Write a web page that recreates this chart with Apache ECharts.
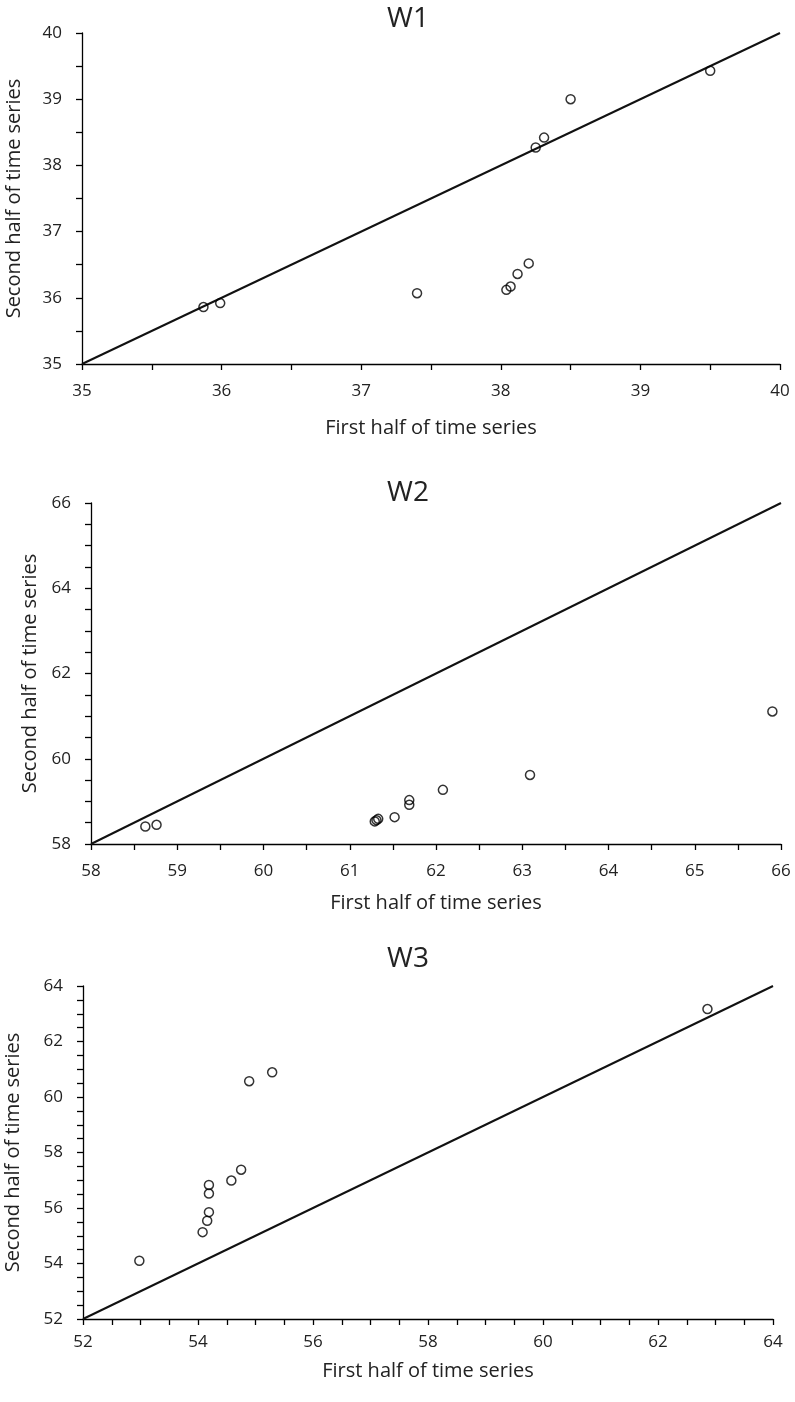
<!DOCTYPE html>
<html>
<head>
<meta charset="utf-8">
<script src="https://cdn.jsdelivr.net/npm/echarts@6/dist/echarts.min.js"></script>
<style>
  html, body { margin: 0; padding: 0; background: #fff; }
</style>
</head>
<body>
<div id="chart" style="width: 795px; height: 1402px;"></div>
<script>
// W1
const w1X = [35.87, 35.99, 37.40, 38.04, 38.07, 38.12, 38.20, 38.25, 38.31, 38.50, 39.50];
const w1Y = [35.86, 35.92, 36.07, 36.12, 36.17, 36.36, 36.52, 38.27, 38.42, 39.00, 39.43];
const w1Range = [35, 40];
// W2
const w2X = [58.63, 58.76, 61.29, 61.31, 61.33, 61.52, 61.69, 61.69, 62.08, 63.09, 65.90];
const w2Y = [58.41, 58.45, 58.53, 58.56, 58.59, 58.63, 58.92, 59.03, 59.27, 59.62, 61.11];
const w2Range = [58, 66];
// W3
const w3X = [52.98, 54.08, 54.16, 54.19, 54.19, 54.19, 54.58, 54.75, 54.89, 55.29, 62.86];
const w3Y = [54.10, 55.13, 55.54, 55.85, 56.52, 56.83, 56.99, 57.38, 60.57, 60.89, 63.17];
const w3Range = [52, 64];

const titles = ['W1', 'W2', 'W3'];
const xName = 'First half of time series';
const yName = 'Second half of time series';

const font = 'Open Sans';
const ink = '#222';

const panels = [
  { x: w1X, y: w1Y, range: w1Range, xStep: 1, yStep: 1, xSplit: 2, ySplit: 2,
    grid: { left: 82, top: 33, width: 698, height: 331 }, titleTop: 0,
    xGap: 54, yGap: 58, labelMargin: 19 },
  { x: w2X, y: w2Y, range: w2Range, xStep: 1, yStep: 2, xSplit: 2, ySplit: 4,
    grid: { left: 91, top: 503, width: 690, height: 341 }, titleTop: 474,
    xGap: 49, yGap: 48, labelMargin: 19 },
  { x: w3X, y: w3Y, range: w3Range, xStep: 2, yStep: 2, xSplit: 4, ySplit: 4,
    grid: { left: 83, top: 986, width: 690, height: 333 }, titleTop: 940,
    xGap: 42, yGap: 60, labelMargin: 15 }
];

function makeAxis(i, p, isX) {
  return {
    type: 'value',
    gridIndex: i,
    min: p.range[0],
    max: p.range[1],
    interval: isX ? p.xStep : p.yStep,
    name: isX ? xName : yName,
    nameLocation: 'middle',
    nameGap: isX ? p.xGap : p.yGap,
    nameTextStyle: { fontFamily: font, fontSize: 20, color: ink },
    axisLine: { show: true, lineStyle: { color: '#000', width: 1.3 } },
    axisTick: { show: true, length: 6, lineStyle: { color: '#000', width: 1.3 } },
    minorTick: { show: true, splitNumber: isX ? p.xSplit : p.ySplit, length: 6,
      lineStyle: { color: '#000', width: 1.3 } },
    axisLabel: { fontFamily: font, fontSize: 17, color: ink,
      margin: isX ? p.labelMargin : 20 },
    splitLine: { show: false }
  };
}

const chart = echarts.init(document.getElementById('chart'));
const option = {
  animation: false,
  backgroundColor: '#fff',
  title: panels.map((p, i) => ({
    text: titles[i],
    left: 403,
    top: p.titleTop,
    textAlign: 'center',
    textStyle: { fontFamily: font, fontSize: 28, fontWeight: 'normal', color: ink }
  })),
  grid: panels.map(p => Object.assign({ outerBoundsMode: 'none', containLabel: false }, p.grid)),
  xAxis: panels.map((p, i) => makeAxis(i, p, true)),
  yAxis: panels.map((p, i) => makeAxis(i, p, false)),
  series: panels.flatMap((p, i) => [
    {
      type: 'line',
      xAxisIndex: i,
      yAxisIndex: i,
      data: [[p.range[0], p.range[0]], [p.range[1], p.range[1]]],
      showSymbol: false,
      lineStyle: { color: '#111', width: 2 },
      z: 2
    },
    {
      type: 'scatter',
      xAxisIndex: i,
      yAxisIndex: i,
      data: p.x.map((v, k) => [v, p.y[k]]),
      symbol: 'circle',
      symbolSize: 9,
      itemStyle: { color: 'rgba(255,255,255,0)', borderColor: '#000', borderWidth: 1.5 },
      z: 3
    }
  ])
};
chart.setOption(option);
</script>
</body>
</html>
